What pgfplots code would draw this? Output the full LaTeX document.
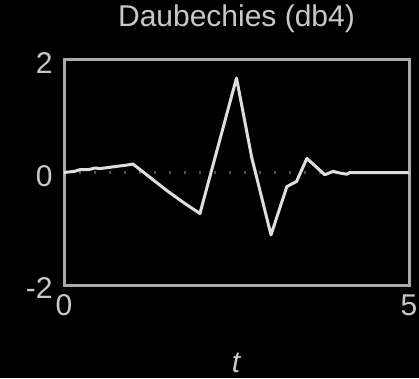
\documentclass[border=0pt]{standalone}
\usepackage{fontspec}
\setmainfont{Liberation Sans}
\usepackage{pgfplots}
\pgfplotsset{compat=1.18}
\definecolor{txt}{RGB}{200,200,200}
\definecolor{axl}{RGB}{170,170,170}
\definecolor{crv}{RGB}{222,222,222}
\definecolor{dotc}{RGB}{80,80,80}
\begin{document}
\begin{tikzpicture}
\fill[black] (0,0) rectangle (419pt,378pt);
\useasboundingbox (0,0) rectangle (419pt,378pt);
\begin{axis}[
  at={(64pt,93pt)}, anchor=south west,
  width=345pt, height=225pt, scale only axis,
  xmin=0, xmax=5, ymin=-2, ymax=2,
  xtick={0,5}, ytick={-2,0,2},
  yticklabels={-2,0,2},
  major tick length=0pt,
  axis line style={draw=axl, line width=3pt},
  every tick label/.append style={font=\fontsize{30}{36}\selectfont, text=txt},
  yticklabel style={xshift=-8pt, yshift=-3.5pt},
  xticklabel style={yshift=-6pt},
  /pgf/number format/assume math mode=true,
  title={Daubechies (db4)},
  title style={at={(axis description cs:0.5,1)}, anchor=base, yshift=27pt, font=\fontsize{30}{36}\selectfont, text=txt},
  xlabel={\textit{t}},
  xlabel style={at={(axis description cs:0.5,0)}, anchor=center, yshift=-78pt, font=\fontsize{30}{36}\selectfont, text=txt},
  clip=false,
]
\addplot[dotc, line width=2.2pt, dash pattern=on 2pt off 13pt] coordinates {(0,0) (5,0)};
\addplot[crv, line width=3pt, line join=round] coordinates {
(0,0) (0.15,0.02) (0.23,0.05) (0.35,0.05) (0.45,0.08) (0.52,0.07) (0.65,0.09) (0.77,0.11) (0.9,0.13) (1.0,0.15)
(1.25,-0.09) (1.5,-0.33) (1.75,-0.55) (1.97,-0.73)
(2.5,1.68) (2.72,0.27) (3.0,-1.11)
(3.23,-0.25) (3.37,-0.16) (3.52,0.25) (3.78,-0.04) (3.9,0.02) (4.0,-0.01) (4.1,-0.03) (4.14,0) (5,0)
};
\end{axis}
\end{tikzpicture}
\end{document}
